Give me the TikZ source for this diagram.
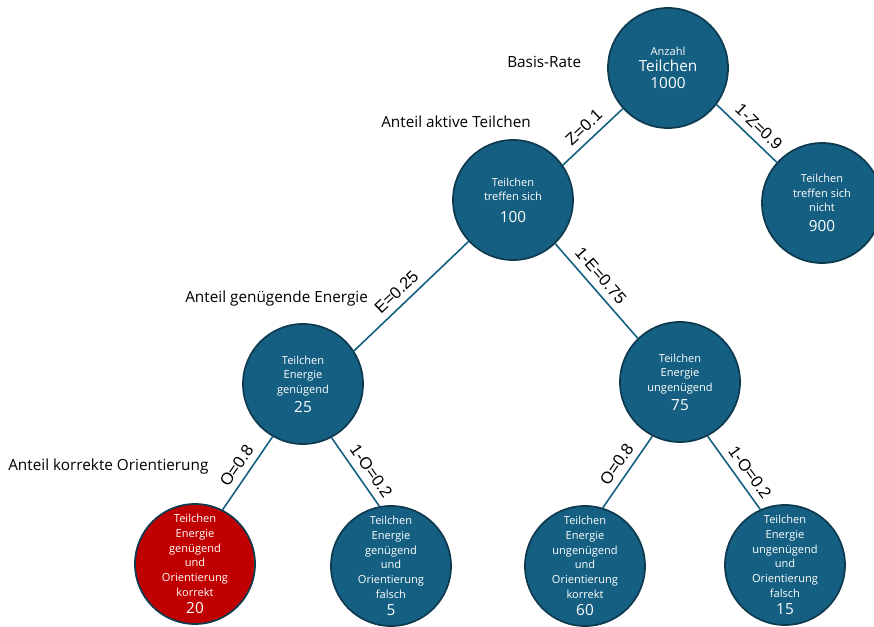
\documentclass[tikz,border=0pt]{standalone}
\usepackage{fontspec}
\setmainfont{Open Sans}
\newfontfamily\arialfont{Liberation Sans}
\definecolor{tblue}{HTML}{156082}
\definecolor{tred}{HTML}{C00000}
\definecolor{tline}{HTML}{0D3A4F}
\newcommand{\zahl}[1]{{\fontsize{11.5}{14}\selectfont #1}}

\begin{document}
\begin{tikzpicture}[x=0.75pt,y=-0.75pt,
  knoten/.style={circle,draw=tline,line width=1.3pt,fill=tblue,minimum size=90pt,inner sep=0pt,
    align=center,text=white,font=\fontsize{8.3}{11}\selectfont},
  kante/.style={draw=tblue,line width=1.2pt},
  prob/.style={font=\arialfont\fontsize{12.5}{14}\selectfont,sloped,above=5pt,inner sep=0pt},
  ebene/.style={font=\fontsize{11.5}{14}\selectfont,anchor=west,inner sep=0pt}]
\useasboundingbox (0,0) rectangle (874,627);
% Baum
\node[knoten] (anzahl) at (668,68) {Anzahl\\[1pt]\zahl{Teilchen}\\[2pt]\zahl{1000}};
\node[knoten] (treffen) at (513,200) {Teilchen\\treffen sich\\[5pt]\zahl{100}};
\node[knoten] (nicht) at (822,203) {Teilchen\\treffen sich\\nicht\\[4pt]\zahl{900}};
\node[knoten] (genuegend) at (303,384) {Teilchen\\Energie\\genügend\\[3pt]\zahl{25}};
\node[knoten] (ungenuegend) at (680,382) {Teilchen\\Energie\\ungenügend\\[3pt]\zahl{75}};
\node[knoten,fill=tred] (gk) at (195,564) {Teilchen\\Energie\\genügend\\und\\Orientierung\\korrekt\\[2pt]\zahl{20}};
\node[knoten] (gf) at (391,566) {Teilchen\\Energie\\genügend\\und\\Orientierung\\falsch\\[2pt]\zahl{5}};
\node[knoten] (uk) at (585,566) {Teilchen\\Energie\\ungenügend\\und\\Orientierung\\korrekt\\[2pt]\zahl{60}};
\node[knoten] (uf) at (785,565) {Teilchen\\Energie\\ungenügend\\und\\Orientierung\\falsch\\[2pt]\zahl{15}};
% Kanten
\draw[kante] (anzahl.222) -- node[prob] {Z=0.1} (treffen.35);
\draw[kante] (anzahl.323) -- node[prob,pos=0.55] {1-Z=0.9} (nicht.138);
\draw[kante] (treffen.223) -- node[prob,pos=0.55] {E=0.25} (genuegend.33);
\draw[kante] (treffen.314) -- node[prob,pos=0.43] {1-E=0.75} (ungenuegend.134);
\draw[kante] (genuegend.240) -- node[prob] {O=0.8} (gk.63);
\draw[kante] (genuegend.298) -- node[prob,pos=0.6] {1-O=0.2} (gf.101);
\draw[kante] (ungenuegend.243) -- node[prob] {O=0.8} (uk.73);
\draw[kante] (ungenuegend.297) -- node[prob,pos=0.6] {1-O=0.2} (uf.114);
% Ebenen
\node[ebene] (basis) at (507,62) {Basis-Rate};
\node[ebene] (aktiv) at (381,122) {Anteil aktive Teilchen};
\node[ebene] (energie) at (185,299) {Anteil genügende Energie};
\node[ebene] (orient) at (8,467) {Anteil korrekte Orientierung};
\end{tikzpicture}
\end{document}
